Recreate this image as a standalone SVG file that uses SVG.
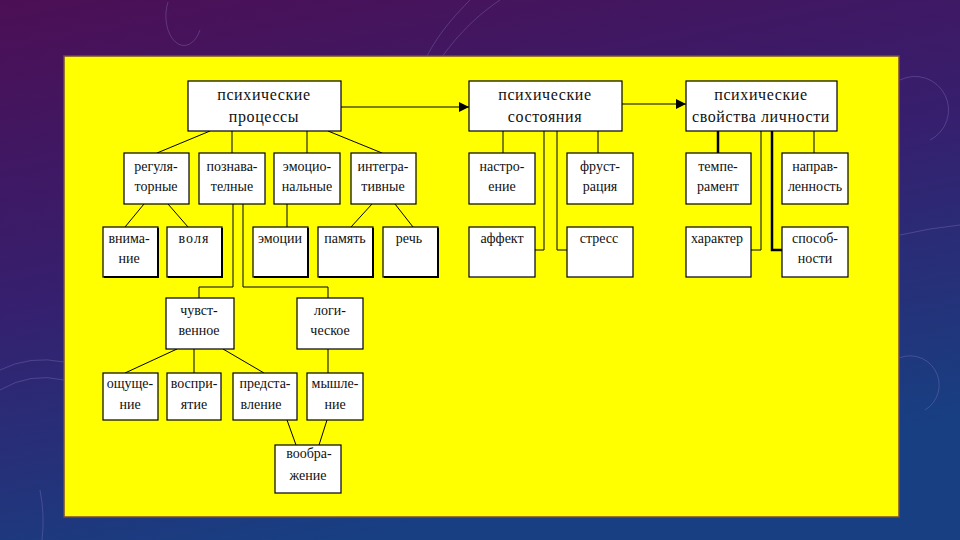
<svg xmlns="http://www.w3.org/2000/svg" width="960" height="540" viewBox="0 0 960 540">
<defs>
<linearGradient id="bg" x1="0" y1="0" x2="0.35" y2="1">
<stop offset="0" stop-color="#4c0f55"/>
<stop offset="0.5" stop-color="#361f6e"/>
<stop offset="1" stop-color="#183f82"/>
</linearGradient>
<marker id="ah" viewBox="0 0 10 10" refX="10" refY="5" markerWidth="12" markerHeight="10" markerUnits="userSpaceOnUse" orient="auto">
<path d="M0,0 L10,5 L0,10 z" fill="#000"/>
</marker>
<style>
.box{fill:#fff;stroke:#000;stroke-width:1.2}
.sh{fill:none;stroke:#000;stroke-width:2}
.t{font-family:"Liberation Serif","Times New Roman",serif;font-size:14px;fill:#111;text-anchor:middle}
.tt{font-size:16px;letter-spacing:0.6px}
.c{fill:none;stroke:#000;stroke-width:1}
.ck{fill:none;stroke:#000;stroke-width:2.5}
.deco{fill:none;stroke:#8a7fc0;stroke-opacity:0.35;stroke-width:1}
</style>
</defs>
<rect width="960" height="540" fill="url(#bg)"/>
<g id="decor">
<path class="deco" d="M168,2 A16,26 0 0 0 200,30"/>
<path class="deco" d="M470,0 C440,30 430,50 425,60"/>
<path class="deco" d="M500,0 C470,20 450,45 440,60"/>
<path class="deco" d="M900,80 A30,30 0 1 1 930,140"/>
<path class="deco" d="M895,360 A28,28 0 1 1 925,410"/>
<path class="deco" d="M0,390 Q30,372 64,380"/>
<path class="deco" d="M0,370 Q30,355 64,362"/>
<path class="deco" d="M900,235 Q930,228 960,225"/>
<path class="deco" d="M40,490 Q45,515 42,540"/>
</g>
<rect id="panel" x="64" y="56" width="835" height="461" fill="#ffff00" stroke="#7a4a3a" stroke-width="1.5"/>

<g id="connectors">
<line class="c" x1="341" y1="107" x2="469" y2="107" marker-end="url(#ah)"/>
<line class="c" x1="622" y1="104" x2="686" y2="104" marker-end="url(#ah)"/>
<line class="c" x1="210" y1="131" x2="157" y2="153"/>
<line class="c" x1="232" y1="131" x2="232" y2="153"/>
<line class="c" x1="307" y1="131" x2="307" y2="153"/>
<line class="c" x1="328" y1="131" x2="382" y2="153"/>
<line class="c" x1="144" y1="204" x2="125" y2="227"/>
<line class="c" x1="168" y1="204" x2="188" y2="227"/>
<line class="c" x1="287" y1="204" x2="287" y2="227"/>
<line class="c" x1="372" y1="204" x2="351" y2="227"/>
<line class="c" x1="395" y1="204" x2="413" y2="227"/>
<polyline class="c" points="233,204 233,287 199,287 199,298"/>
<polyline class="c" points="243,204 243,287 328,287 328,298"/>
<line class="c" x1="177" y1="349" x2="125" y2="373"/>
<line class="c" x1="194" y1="349" x2="194" y2="373"/>
<line class="c" x1="223" y1="349" x2="264" y2="373"/>
<line class="c" x1="328" y1="349" x2="328" y2="373"/>
<line class="c" x1="287" y1="420" x2="296" y2="445"/>
<line class="c" x1="327" y1="420" x2="319" y2="445"/>
<line class="c" x1="503" y1="131" x2="503" y2="153"/>
<line class="c" x1="598" y1="131" x2="598" y2="153"/>
<polyline class="c" points="544,131 544,250 535,250"/>
<polyline class="c" points="557,131 557,250 567,250"/>
<line class="ck" x1="718" y1="131" x2="718" y2="153"/>
<line class="c" x1="814" y1="131" x2="814" y2="153"/>
<polyline class="c" points="761,131 761,250 751,250"/>
<polyline class="ck" points="772,131 772,250 782,250"/>
</g>

<g id="n-processes"><rect class="box" x="188" y="81" width="153" height="50"/><text class="t tt" x="264" y="100">психические</text><text class="t tt" x="264" y="122">процессы</text></g>
<g id="n-states"><rect class="box" x="469" y="81" width="153" height="50"/><text class="t tt" x="545" y="100">психические</text><text class="t tt" x="545" y="122">состояния</text></g>
<g id="n-properties"><rect class="box" x="686" y="81" width="151" height="50"/><text class="t tt" x="761" y="100">психические</text><text class="t tt" x="761" y="122" letter-spacing="0">свойства личности</text></g>

<g id="n-reg"><rect class="box" x="124" y="153" width="65" height="51"/><text class="t" x="156" y="171">регуля-</text><text class="t" x="156" y="191">торные</text></g>
<g id="n-cog"><rect class="box" x="199" y="153" width="66" height="51"/><text class="t" x="232" y="171">познава-</text><text class="t" x="232" y="191">телные</text></g>
<g id="n-emo"><rect class="box" x="274" y="153" width="66" height="51"/><text class="t" x="307" y="171">эмоцио-</text><text class="t" x="307" y="191">нальные</text></g>
<g id="n-int"><rect class="box" x="351" y="153" width="65" height="51"/><text class="t" x="383" y="171">интегра-</text><text class="t" x="383" y="191">тивные</text></g>

<g id="n-att"><rect class="box" x="103" y="227" width="55" height="50"/><path class="sh" d="M158,228 V277 H104"/><text class="t" x="129" y="243">внима-</text><text class="t" x="129" y="263">ние</text></g>
<g id="n-will"><rect class="box" x="167" y="227" width="55" height="50"/><path class="sh" d="M222,228 V277 H168"/><text class="t" x="194" y="243" letter-spacing="1">воля</text></g>
<g id="n-emotions"><rect class="box" x="253" y="227" width="55" height="50"/><path class="sh" d="M308,228 V277 H254"/><text class="t" x="280" y="243">эмоции</text></g>
<g id="n-memory"><rect class="box" x="318" y="227" width="55" height="50"/><path class="sh" d="M373,228 V277 H319"/><text class="t" x="345" y="243">память</text></g>
<g id="n-speech"><rect class="box" x="383" y="227" width="55" height="50"/><path class="sh" d="M438,228 V277 H384"/><text class="t" x="409" y="243">речь</text></g>

<g id="n-mood"><rect class="box" x="469" y="153" width="66" height="51"/><text class="t" x="502" y="171">настро-</text><text class="t" x="502" y="191">ение</text></g>
<g id="n-frus"><rect class="box" x="567" y="153" width="66" height="51"/><text class="t" x="600" y="171">фруст-</text><text class="t" x="600" y="191">рация</text></g>
<g id="n-affect"><rect class="box" x="469" y="227" width="66" height="50"/><text class="t" x="502" y="243">аффект</text></g>
<g id="n-stress"><rect class="box" x="567" y="227" width="66" height="50"/><text class="t" x="599" y="243">стресс</text></g>

<g id="n-temp"><rect class="box" x="686" y="153" width="65" height="51"/><text class="t" x="718" y="171">темпе-</text><text class="t" x="718" y="191">рамент</text></g>
<g id="n-dir"><rect class="box" x="782" y="153" width="66" height="51"/><text class="t" x="815" y="171">направ-</text><text class="t" x="815" y="191">ленность</text></g>
<g id="n-char"><rect class="box" x="686" y="227" width="65" height="50"/><text class="t" x="717" y="243">характер</text></g>
<g id="n-abil"><rect class="box" x="782" y="227" width="66" height="50"/><text class="t" x="815" y="243">способ-</text><text class="t" x="815" y="263">ности</text></g>

<g id="n-sens"><rect class="box" x="166" y="298" width="68" height="51"/><text class="t" x="199" y="315">чувст-</text><text class="t" x="199" y="335">венное</text></g>
<g id="n-log"><rect class="box" x="297" y="298" width="66" height="51"/><text class="t" x="330" y="315">логи-</text><text class="t" x="330" y="335">ческое</text></g>

<g id="n-sensation"><rect class="box" x="103" y="373" width="55" height="47"/><text class="t" x="130" y="388">ощуще-</text><text class="t" x="130" y="409">ние</text></g>
<g id="n-perc"><rect class="box" x="167" y="373" width="54" height="47"/><text class="t" x="194" y="388">воспри-</text><text class="t" x="194" y="409">ятие</text></g>
<g id="n-repr"><rect class="box" x="233" y="373" width="64" height="47"/><text class="t" x="265" y="388">предста-</text><text class="t" x="261" y="409">вление</text></g>
<g id="n-think"><rect class="box" x="307" y="373" width="56" height="47"/><text class="t" x="335" y="388">мышле-</text><text class="t" x="335" y="409">ние</text></g>
<g id="n-imag"><rect class="box" x="275" y="445" width="66" height="48"/><text class="t" x="309" y="458">вообра-</text><text class="t" x="308" y="480">жение</text></g>
</svg>
